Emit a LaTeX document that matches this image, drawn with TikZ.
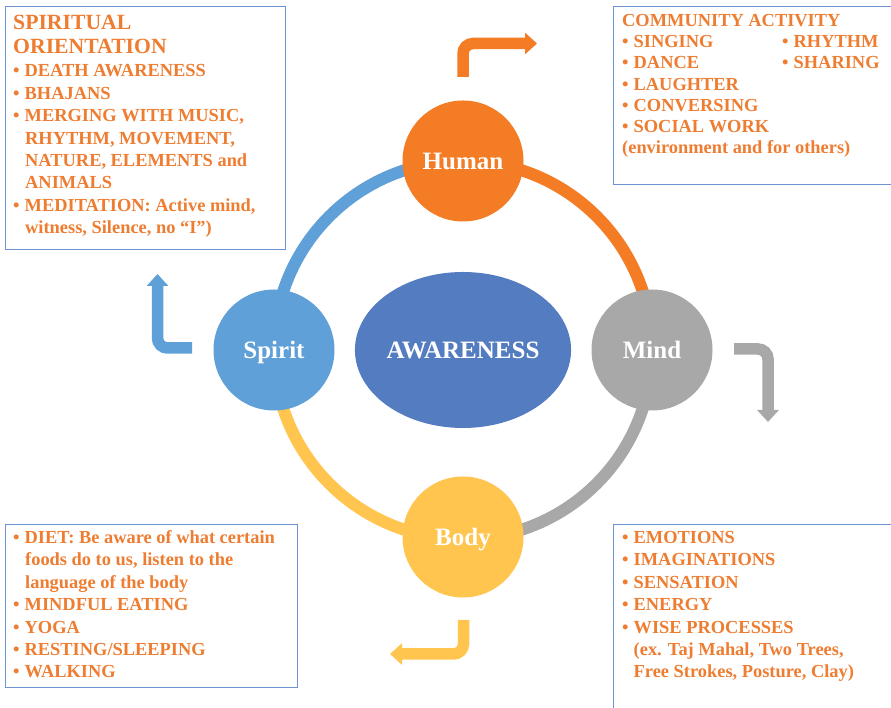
\documentclass[tikz,border=0pt]{standalone}
\usepackage{fontspec}
\setmainfont{Liberation Serif}
\usetikzlibrary{arrows.meta,shapes.geometric}
\definecolor{humanc}{HTML}{F47C24}
\definecolor{mindc}{HTML}{A8A8A8}
\definecolor{bodyc}{HTML}{FFC54F}
\definecolor{spiritc}{HTML}{5FA0D8}
\definecolor{awc}{HTML}{547CC0}
\definecolor{boxc}{HTML}{6F92D0}
\definecolor{txtc}{HTML}{EE7D31}
\newcommand\mybul{\makebox[11.5pt][l]{•}}
\begin{document}
\begin{tikzpicture}[x=1pt,y=1pt,
  ringseg/.style={line width=12pt},
  hub/.style={circle, minimum size=121pt, inner sep=0pt, text=white,
    text height=17pt, text depth=0pt,
    font=\fontsize{25}{30}\selectfont\bfseries},
  bent/.style={line width=11.5pt, rounded corners=10pt,
    -{Triangle[length=12pt,width=21pt]}},
  infobox/.style={draw=boxc, line width=1.3pt, anchor=north west, inner sep=0pt},
  ln/.style={anchor=base west, inner sep=0pt, text=txtc,
    font=\fontsize{18.4}{22}\selectfont\bfseries},
  ttl/.style={anchor=base west, inner sep=0pt, text=txtc,
    font=\fontsize{21.7}{26}\selectfont\bfseries},
  ttlb/.style={anchor=base west, inner sep=0pt, text=txtc,
    font=\fontsize{18.4}{22}\selectfont\bfseries}
]
\useasboundingbox (0,0) rectangle (891,708);
\fill[white] (0,0) rectangle (891,708);

% ring
\coordinate (ctr) at (463,358);
\draw[ringseg, humanc] (ctr) ++(0:189pt) arc[start angle=0, end angle=90, radius=189pt];
\draw[ringseg, spiritc] (ctr) ++(90:189pt) arc[start angle=90, end angle=180, radius=189pt];
\draw[ringseg, bodyc] (ctr) ++(180:189pt) arc[start angle=180, end angle=270, radius=189pt];
\draw[ringseg, mindc] (ctr) ++(270:189pt) arc[start angle=270, end angle=360, radius=189pt];

\node[hub, fill=humanc] (human) at (463,547) {Human};
\node[hub, fill=mindc] (mind) at (652,358) {Mind};
\node[hub, fill=bodyc] (body) at (463,171) {Body};
\node[hub, fill=spiritc] (spirit) at (274,358) {Spirit};
\node[ellipse, minimum width=208pt, minimum height=156pt, inner sep=0pt, fill=awc,
  text=white, text height=17pt, text depth=0pt,
  font=\fontsize{25}{30}\selectfont\bfseries] (aw) at (ctr) {AWARENESS};

% bent arrows
\coordinate (oa1) at (463,631); \coordinate (oa2) at (463,664.5); \coordinate (oa3) at (537,664.5);
\draw[bent, draw=humanc] (oa1) -- (oa2) -- (oa3);
\coordinate (ga1) at (734,359); \coordinate (ga2) at (768,359); \coordinate (ga3) at (768,286);
\draw[bent, draw=mindc] (ga1) -- (ga2) -- (ga3);
\coordinate (ya1) at (463.5,88); \coordinate (ya2) at (463.5,54); \coordinate (ya3) at (390,54);
\draw[bent, draw=bodyc] (ya1) -- (ya2) -- (ya3);
\coordinate (ba1) at (192,360); \coordinate (ba2) at (157.5,360); \coordinate (ba3) at (157.5,434);
\draw[bent, draw=spiritc] (ba1) -- (ba2) -- (ba3);

% boxes
\node[infobox, minimum width=280pt, minimum height=243pt] (tlbox) at (5,702) {};
\node[infobox, minimum width=290pt, minimum height=178pt] (trbox) at (613,702) {};
\node[infobox, minimum width=292pt, minimum height=163pt] (blbox) at (5,184) {};
\node[infobox, minimum width=290pt, minimum height=195pt] (brbox) at (613,184) {};

% top-left text
\node[ttl] (tl1) at (13,678) {SPIRITUAL};
\node[ttl] (tl2) at (13,654) {ORIENTATION};
\node[ln] (tl3) at (13,631) {\mybul DEATH AWARENESS};
\node[ln] (tl4) at (13,608.6) {\mybul BHAJANS};
\node[ln] (tl5) at (13,586.2) {\mybul MERGING WITH MUSIC,};
\node[ln] (tl6) at (25,563.8) {RHYTHM, MOVEMENT,};
\node[ln] (tl7) at (25,541.4) {NATURE, ELEMENTS and};
\node[ln] (tl8) at (25,519) {ANIMALS};
\node[ln] (tl9) at (13,496.6) {\mybul MEDITATION: Active mind,};
\node[ln] (tl10) at (25,474.2) {witness, Silence, no “I”)};

% top-right text
\node[ttlb] (tr1) at (622,681) {COMMUNITY ACTIVITY};
\node[ln] (tr2) at (622,660) {\mybul SINGING};
\node[ln] (tr3) at (622,639) {\mybul DANCE};
\node[ln] (tr4) at (622,617.5) {\mybul LAUGHTER};
\node[ln] (tr5) at (622,596) {\mybul CONVERSING};
\node[ln] (tr6) at (622,575) {\mybul SOCIAL WORK};
\node[ln] (tr7) at (622,554) {(environment and for others)};
\node[ln] (tr8) at (782,660) {\mybul RHYTHM};
\node[ln] (tr9) at (782,639) {\mybul SHARING};

% bottom-left text
\node[ln] (bl1) at (13,164) {\mybul DIET: Be aware of what certain};
\node[ln] (bl2) at (25,142) {foods do to us, listen to the};
\node[ln] (bl3) at (25,119.5) {language of the body};
\node[ln] (bl4) at (13,97) {\mybul MINDFUL EATING};
\node[ln] (bl5) at (13,74.5) {\mybul YOGA};
\node[ln] (bl6) at (13,52) {\mybul RESTING/SLEEPING};
\node[ln] (bl7) at (13,30) {\mybul WALKING};

% bottom-right text
\node[ln] (br1) at (622,164) {\mybul EMOTIONS};
\node[ln] (br2) at (622,142) {\mybul IMAGINATIONS};
\node[ln] (br3) at (622,119.5) {\mybul SENSATION};
\node[ln] (br4) at (622,97) {\mybul ENERGY};
\node[ln] (br5) at (622,74.5) {\mybul WISE PROCESSES};
\node[ln] (br6) at (633.5,52) {(ex. Taj Mahal, Two Trees,};
\node[ln] (br7) at (633.5,30) {Free Strokes, Posture, Clay)};
\end{tikzpicture}
\end{document}
